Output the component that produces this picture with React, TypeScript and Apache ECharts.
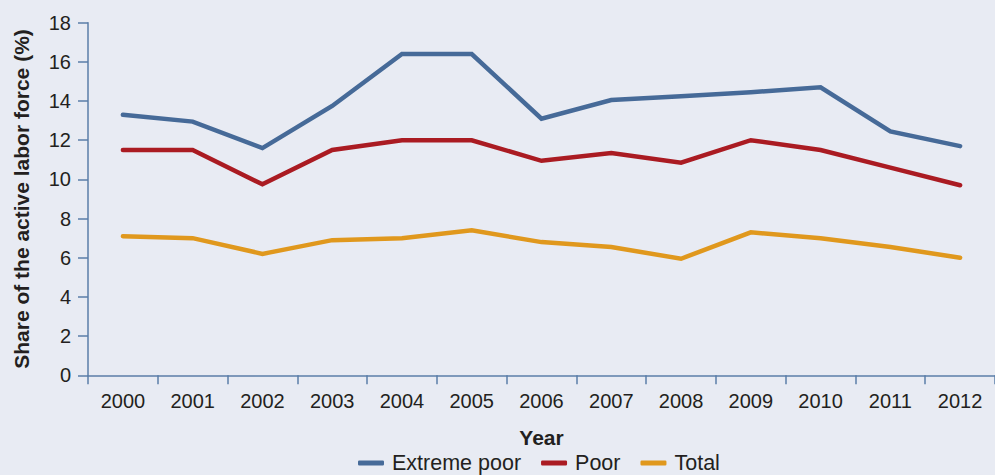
import React, { useEffect, useRef } from "react";
import * as echarts from "echarts";

const years = ["2000","2001","2002","2003","2004","2005","2006","2007","2008","2009","2010","2011","2012"];
const extremePoor = [13.3, 12.95, 11.6, 13.75, 16.4, 16.4, 13.1, 14.05, 14.25, 14.45, 14.7, 12.45, 11.7];
const poor = [11.5, 11.5, 9.75, 11.5, 12.0, 12.0, 10.95, 11.35, 10.85, 12.0, 11.5, 10.6, 9.7];
const total = [7.1, 7.0, 6.2, 6.9, 7.0, 7.4, 6.8, 6.55, 5.95, 7.3, 7.0, 6.55, 6.0];

const FONT = "'Liberation Sans', Arial, Helvetica, sans-serif";

export default function App() {
  const ref = useRef<HTMLDivElement>(null);
  useEffect(() => {
    document.body.style.margin = "0";
    const chart = echarts.init(ref.current!, null, { renderer: "svg" });
    const axisColor = "#5b7ea8";
    const mk = (name: string, data: number[], color: string) => ({
      name,
      type: "line",
      data,
      symbol: "none",
      lineStyle: { color, width: 4.5, cap: "round", join: "miter" },
      itemStyle: { color },
    });
    chart.setOption({
      animation: false,
      backgroundColor: "#e8ebf3",
      textStyle: { fontFamily: FONT },
      grid: { left: 88, top: 22.7, width: 915, height: 352.6, containLabel: false },
      legend: {
        top: 452,
        left: 358,
        padding: 0,
        itemWidth: 26,
        itemHeight: 5,
        itemGap: 20,
        icon: "roundRect",
        textStyle: { fontFamily: FONT, fontSize: 21.5, color: "#231f20", padding: [0, 0, 0, 3] },
        data: ["Extreme poor", "Poor", "Total"],
      },
      xAxis: {
        type: "category",
        data: years,
        boundaryGap: true,
        name: "Year",
        nameLocation: "middle",
        nameGap: 52,
        nameTextStyle: { fontFamily: FONT, fontSize: 21, fontWeight: "bold", color: "#231f20" },
        axisLine: { lineStyle: { color: axisColor, width: 1.5 } },
        axisTick: { show: true, length: 9, lineStyle: { color: axisColor, width: 1.5 } },
        axisLabel: { fontFamily: FONT, fontSize: 20, color: "#231f20", margin: 16 },
      },
      yAxis: {
        type: "value",
        min: 0,
        max: 18,
        interval: 2,
        name: "Share of the active labor force (%)",
        nameLocation: "middle",
        nameRotate: 90,
        nameGap: 56,
        nameTextStyle: { fontFamily: FONT, fontSize: 21, fontWeight: "bold", color: "#231f20" },
        axisLine: { show: true, lineStyle: { color: axisColor, width: 1.5 } },
        axisTick: { show: true, length: 10, lineStyle: { color: axisColor, width: 1.5 } },
        axisLabel: { fontFamily: FONT, fontSize: 20, color: "#231f20", margin: 17 },
        splitLine: { show: false },
      },
      series: [
        mk("Extreme poor", extremePoor, "#466a98"),
        mk("Poor", poor, "#aa1b22"),
        mk("Total", total, "#e0981d"),
      ],
    });
    return () => chart.dispose();
  }, []);
  return <div ref={ref} style={{ width: 995, height: 475 }} />;
}
